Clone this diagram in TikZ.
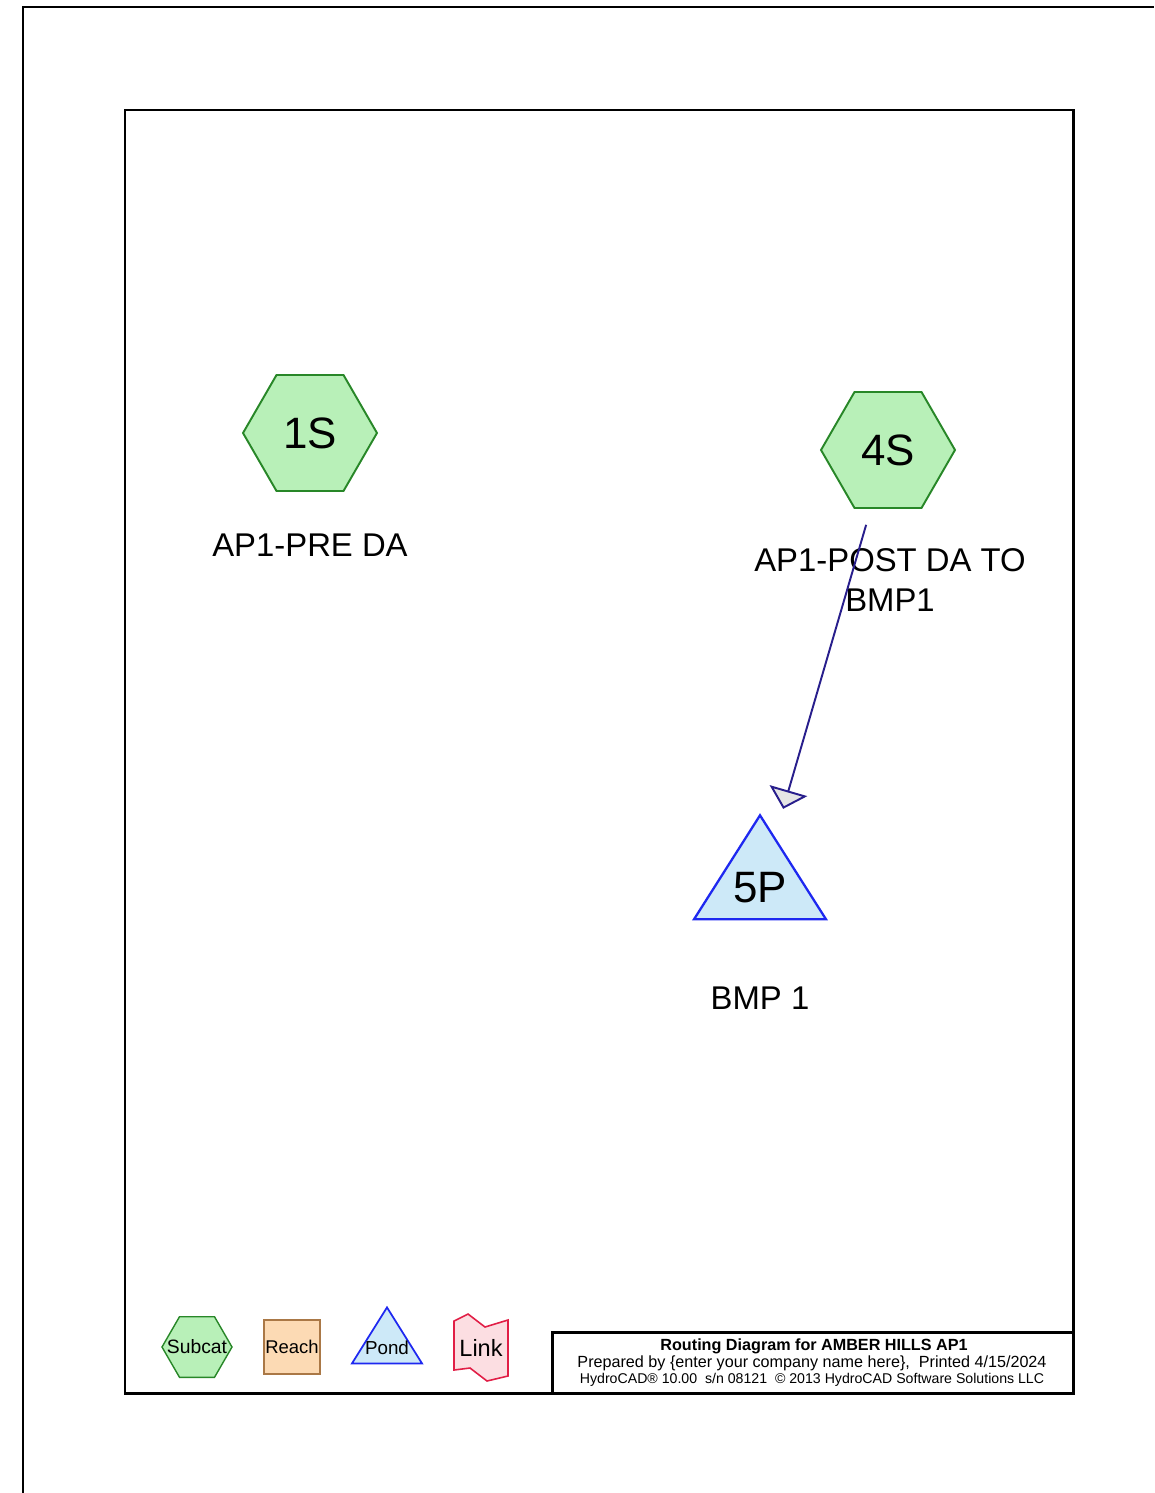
\documentclass[tikz,border=0pt]{standalone}
\usepackage{fontspec}
\setmainfont{Liberation Sans}
\usetikzlibrary{shapes.geometric,arrows.meta}

\definecolor{subfill}{RGB}{184,240,184}
\definecolor{subdraw}{RGB}{40,135,40}
\definecolor{pondfill}{RGB}{205,233,248}
\definecolor{ponddraw}{RGB}{30,40,240}
\definecolor{reachfill}{RGB}{252,218,180}
\definecolor{reachdraw}{RGB}{170,120,70}
\definecolor{linkfill}{RGB}{252,222,226}
\definecolor{linkdraw}{RGB}{225,30,70}
\definecolor{flowline}{RGB}{40,30,140}

\tikzset{
  subcat/.style={regular polygon,regular polygon sides=6,draw=subdraw,fill=subfill,
    line width=1.1pt,inner sep=0pt,outer sep=0pt,minimum size=2.68cm,
    font=\fontsize{25}{30}\selectfont},
  pond/.style={isosceles triangle,isosceles triangle stretches,shape border rotate=90,
    draw=ponddraw,fill=pondfill,line width=1.3pt,inner sep=0pt,outer sep=0pt,
    minimum width=2.64cm,minimum height=2.08cm},
  reach/.style={rectangle,draw=reachdraw,fill=reachfill,line width=0.8pt,
    inner sep=0pt,minimum width=1.12cm,minimum height=1.08cm,
    font=\fontsize{10.5}{12}\selectfont},
  lbl/.style={font=\fontsize{18.7}{22.8}\selectfont,align=center},
  frame/.style={draw=black,line width=1.7pt},
  flow/.style={draw=flowline,line width=1.1pt,
    -{Triangle[length=0.38cm,width=0.78cm,fill=gray!20]}},
}

\begin{document}
\begin{tikzpicture}[x=0.02cm,y=-0.02cm]
  \useasboundingbox (0,0) rectangle (1154,1493);
  % marcos
  \draw[line width=1.1pt] (23,1493) -- (23,7) -- (1154,7);
  \draw[frame] (125,110) rectangle (1073,1393);

  % subcuencas
  \node[subcat] (1S) at (310,433) {1S};
  \node[lbl] (1Slbl) at (310,545) {AP1-PRE DA};
  \node[subcat] (4S) at (888,450) {4S};
  \node[lbl] (4Slbl) at (890,580) {AP1-POST DA TO\\BMP1};

  % estanque
  \node[pond] (5P) at (760,883) {};
  \node[font=\fontsize{25}{30}\selectfont] (5Ptxt) at (760,888) {5P};
  \node[lbl] (5Plbl) at (760,998) {BMP 1};

  % flujo
  \draw[flow,shorten <=0.35cm,shorten >=1.65cm] (4S) -- ([yshift=-0.1cm]5P.center);

  % leyenda
  \node[subcat,minimum size=1.4cm,line width=0.8pt] (legsub) at (197,1347) {};
  \node[font=\fontsize{11}{13}\selectfont] at (legsub) {Subcat};
  \node[reach] (legreach) at (292,1347) {Reach};
  \node[pond,minimum width=1.4cm,minimum height=1.12cm,line width=1pt]
    (legpond) at (387,1344) {};
  \node[font=\fontsize{10.7}{12}\selectfont] at (387,1348) {Pond};
  \draw[draw=linkdraw,fill=linkfill,line width=0.9pt]
    (454,1321) -- (468,1314) -- (485,1327) -- (508,1320) -- (508,1376)
    -- (487,1381) -- (470,1368) -- (454,1370) -- cycle;
  \node[font=\fontsize{13.4}{15}\selectfont] (leglink) at (481,1348) {Link};

  % cuadro de titulo
  \draw[frame] (552,1332) rectangle (1073,1393);
  \node[font=\bfseries\fontsize{9.2}{11}\selectfont] (title) at (814,1346)
    {Routing Diagram for AMBER HILLS AP1};
  \node[font=\fontsize{9.2}{11}\selectfont] (prep) at (812,1363)
    {Prepared by \{enter your company name here\},\ \ Printed 4/15/2024};
  \node[font=\fontsize{8.05}{9}\selectfont] (soft) at (812,1380)
    {HydroCAD® 10.00\ \ s/n 08121\ \ © 2013 HydroCAD Software Solutions LLC};
\end{tikzpicture}
\end{document}
